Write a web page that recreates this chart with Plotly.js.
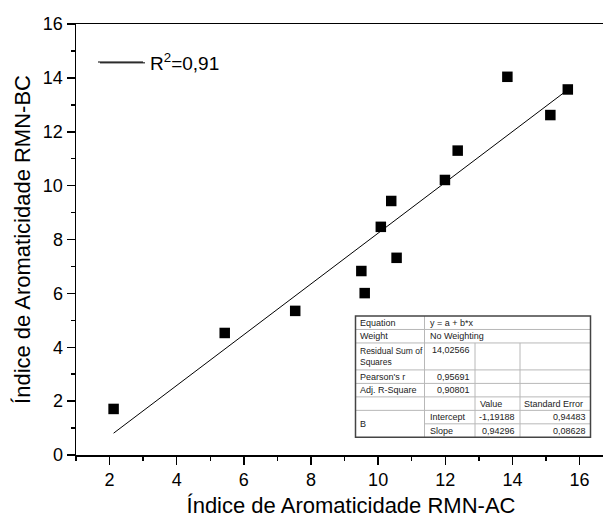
<!DOCTYPE html>
<html>
<head>
<meta charset="utf-8">
<script src="https://cdn.plot.ly/plotly-3.0.1.min.js"></script>
<style>html,body{margin:0;padding:0;background:#fff;overflow:hidden}#wrap{width:603px;height:518px;overflow:hidden}</style>
</head>
<body>
<div id="wrap"><div id="chart" style="width:626px;height:518px"></div></div>
<script>
// ---- data ----
var acValues = [2.12, 5.43, 7.53, 9.50, 9.60, 10.08, 10.39, 10.55, 11.99, 12.37, 13.85, 15.13, 15.65];
var bcValues = [1.71, 4.53, 5.35, 6.83, 6.01, 8.47, 9.43, 7.32, 10.21, 11.30, 14.04, 12.62, 13.57];
var fitX = [2.12, 15.65];
var fitY = [0.81, 13.56];
var fitLabel = "R<sup>2</sup>=0,91";
var xTitle = "Índice de Aromaticidade RMN-AC";
var yTitle = "Índice de Aromaticidade RMN-BC";

// fit statistics table (rows of text)
var tableLabels = ["Equation", "Weight", "Residual Sum of<br>Squares", "Pearson's r", "Adj. R-Square", "", "B"];
var tableEquation = "y = a + b*x";
var tableWeight = "No Weighting";
var tableStats = ["14,02566", "0,95691", "0,90801"];
var tableHeaders = ["Value", "Standard Error"];
var paramNames = ["Intercept", "Slope"];
var paramValues = ["-1,19188", "0,94296"];
var paramErrors = ["0,94483", "0,08628"];

// ---- layout helpers ----
var W = 626, H = 518, ML = 76, MR = 0, MT = 24, MB = 63;
function px(x) { return (x - ML) / (W - ML - MR); }
function py(y) { return (H - MB - y) / (H - MT - MB); }

var FONT = "Liberation Sans, Arial, sans-serif";

var traces = [
  {
    x: fitX, y: fitY, type: "scatter", mode: "lines",
    line: {color: "#000", width: 1},
    name: fitLabel, showlegend: true, hoverinfo: "skip"
  },
  {
    x: acValues, y: bcValues, type: "scatter", mode: "markers",
    marker: {symbol: "square", size: 10.5, color: "#000", line: {width: 0}},
    showlegend: false
  }
];

// table geometry (pixels)
var rowTop = 316, rowH = 13.48;
function rY(i) { return rowTop + rowH * i; }
var c0 = 355.5, c1 = 424.5, c2 = 475, c3 = 520, c4 = 590.5;
var light = {color: "#b8b8b8", width: 1};
var shapes = [];
function hline(x0, x1, y) { shapes.push({type: "line", xref: "paper", yref: "paper", x0: px(x0), x1: px(x1), y0: py(y), y1: py(y), line: light}); }
function vline(x, y0, y1) { shapes.push({type: "line", xref: "paper", yref: "paper", x0: px(x), x1: px(x), y0: py(y0), y1: py(y1), line: light}); }
hline(c0, c4, rY(1));
hline(c0, c4, rY(2));
hline(c0, c4, rY(4));
hline(c0, c4, rY(5));
hline(c0, c4, rY(6));
hline(c0, c4, rY(7));
hline(c1, c4, rY(8));
vline(c1, rY(0), rY(9));
vline(c2, rY(2), rY(9));
vline(c3, rY(2), rY(9));
shapes.push({type: "rect", xref: "paper", yref: "paper", x0: px(c0), x1: px(c4), y0: py(rY(0)), y1: py(rY(9)),
  line: {color: "#444", width: 1.5}, fillcolor: "rgba(255,255,255,0)"});
// longer legend sample line, as in the reference
shapes.push({type: "line", xref: "paper", yref: "paper", x0: px(98), x1: px(143), y0: py(62), y1: py(62),
  line: {color: "#000", width: 1}});

var annotations = [];
function txt(t, x, y, anchor, size) {
  annotations.push({text: t, xref: "paper", yref: "paper", x: px(x), y: py(y), xanchor: anchor, yanchor: "middle",
    showarrow: false, font: {family: FONT, size: size || 9, color: "#222"}, align: "left"});
}
var labelRowCenters = [rY(0.5), rY(1.5), rY(3), rY(4.5), rY(5.5), rY(6.5), rY(8)];
for (var i = 0; i < tableLabels.length; i++) {
  if (tableLabels[i]) txt(tableLabels[i], c0 + 2, labelRowCenters[i], "left", i === 2 ? 8.5 : 9);
}
txt(tableEquation, c1 + 3, rY(0.5), "left");
txt(tableWeight, c1 + 3, rY(1.5), "left");
txt(tableStats[0], c2 - 3, rY(2.5), "right");
txt(tableStats[1], c2 - 3, rY(4.5), "right");
txt(tableStats[2], c2 - 3, rY(5.5), "right");
txt(tableHeaders[0], c2 + 3, rY(6.5), "left");
txt(tableHeaders[1], c3 + 2, rY(6.5), "left");
for (var j = 0; j < paramNames.length; j++) {
  txt(paramNames[j], c1 + 3, rY(7.5 + j), "left");
  txt(paramValues[j], c3 - 3, rY(7.5 + j), "right");
  txt(paramErrors[j], c4 - 3, rY(7.5 + j), "right");
}

var layout = {
  width: W, height: H,
  margin: {l: ML, r: MR, t: MT, b: MB, pad: 0},
  paper_bgcolor: "#fff", plot_bgcolor: "#fff",
  font: {family: FONT, color: "#000"},
  showlegend: true,
  legend: {x: px(95), y: py(44), xanchor: "left", yanchor: "top", bgcolor: "rgba(0,0,0,0)",
    borderwidth: 0, font: {family: FONT, size: 19, color: "#000"}, itemwidth: 45},
  xaxis: {
    range: [1, 1 + 550 / 33.57], dtick: 2, tick0: 0,
    showgrid: false, zeroline: false,
    showline: true, linecolor: "#000", linewidth: 1.5, mirror: true,
    ticks: "outside", ticklen: 8, tickwidth: 1.5, tickcolor: "#000",
    minor: {dtick: 1, tick0: 0, ticks: "outside", ticklen: 4, tickwidth: 1.5, tickcolor: "#000", showgrid: false},
    tickfont: {family: FONT, size: 18, color: "#000"},
    title: {text: xTitle, font: {family: FONT, size: 22, color: "#000"}, standoff: 8}
  },
  yaxis: {
    range: [0, 16], dtick: 2, tick0: 0,
    showgrid: false, zeroline: false,
    showline: true, linecolor: "#000", linewidth: 1.5, mirror: false,
    ticks: "outside", ticklen: 8, tickwidth: 1.5, tickcolor: "#000",
    minor: {dtick: 1, tick0: 0, ticks: "outside", ticklen: 4, tickwidth: 1.5, tickcolor: "#000", showgrid: false},
    tickfont: {family: FONT, size: 18, color: "#000"},
    title: {text: yTitle, font: {family: FONT, size: 22, color: "#000"}, standoff: 6}
  },
  shapes: shapes,
  annotations: annotations
};

Plotly.newPlot("chart", traces, layout, {displayModeBar: false, staticPlot: true});
</script>
</body>
</html>
